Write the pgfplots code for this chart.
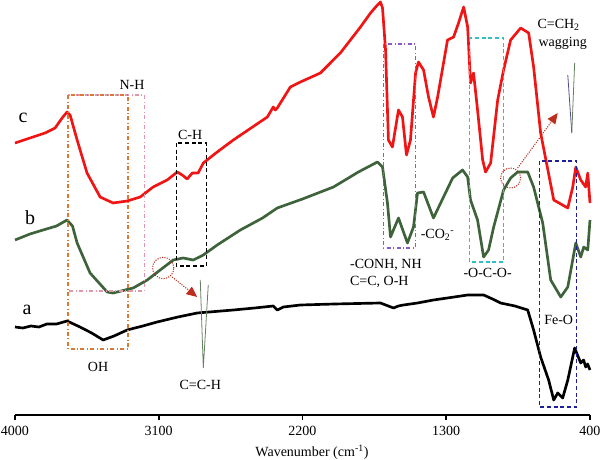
\documentclass[border=0pt]{standalone}
\usepackage{fontspec}
\setmainfont{Liberation Serif}
\usepackage{pgfplots}
\pgfplotsset{compat=1.18}
\usetikzlibrary{arrows.meta}
\definecolor{cred}{RGB}{240,20,20}
\definecolor{cgreen}{RGB}{62,98,58}
\definecolor{corange}{RGB}{220,120,50}
\definecolor{cpink}{RGB}{225,150,170}
\definecolor{cpurple}{RGB}{140,90,200}
\definecolor{ccyan}{RGB}{50,190,200}
\definecolor{cblue}{RGB}{30,30,160}
\definecolor{carrow}{RGB}{190,45,30}
\begin{document}
\begin{tikzpicture}
\begin{axis}[
  scale only axis, width=431.25pt, height=311.25pt,
  x dir=reverse, xmin=400, xmax=4000, ymin=45, ymax=460,
  axis x line*=bottom, axis y line=none,
  xtick={400,1300,2200,3100,4000},
  minor xtick={},
  tick align=outside, major tick length=3.5pt,
  every tick/.style={black, line width=1.2pt},
  axis line style={line width=1.3pt},
  /pgf/number format/assume math mode=true,
  /pgf/number format/set thousands separator={},
  ticklabel style={font=\fontsize{10.5}{12}\selectfont, yshift=-1pt},
  xlabel={Wavenumber (cm\textsuperscript{-1})},
  xlabel style={font=\fontsize{10.5}{12}\selectfont, at={(rel axis cs:0.5165,-0.089)}, anchor=center},
  clip=false,
  every axis plot/.style={line width=2pt, line join=round},
]
% curve a (black)
\addplot[black] coordinates {
(4000,133) (3950,132) (3900,134) (3850,133) (3800,136) (3740,136) (3674,139) (3593,133) (3520,127) (3448,120) (3380,124) (3298,130) (3200,134) (3110,138) (2980,143) (2859,147) (2633,150) (2500,152) (2383,154) (2358,150) (2320,153) (2213,155) (2000,156) (1712,157) (1630,152) (1600,154) (1568,155) (1480,157) (1380,160) (1250,163) (1166,165) (1066,165) (1010,161) (960,157) (870,154) (790,150) (753,130) (709,103) (659,80) (627,60) (602,67) (571,62) (539,80) (496,112) (458,97) (440,100) (427,93) (415,96) (400,90)};
% curve b (green)
\addplot[cgreen] coordinates {
(4000,220) (3906,226) (3824,230) (3740,234) (3674,240) (3640,234) (3611,217) (3530,187) (3423,168) (3386,167) (3260,172) (3172,180) (3091,190) (3009,200) (2947,202) (2884,200) (2821,205) (2734,215) (2589,230) (2450,242) (2358,252) (2200,261) (2006,273) (1850,288) (1731,298) (1699,293) (1668,257) (1649,223) (1599,242) (1543,217) (1505,233) (1480,267) (1442,268) (1411,255) (1380,242) (1317,263) (1260,282) (1198,290) (1166,283) (1148,260) (1104,240) (1066,203) (1035,210) (1003,233) (941,270) (897,282) (853,288) (790,288) (753,273) (696,237) (646,180) (583,163) (539,173) (489,217) (458,203) (439,213) (414,210) (400,240)};
% curve c (red)
\addplot[cred] coordinates {
(4000,317) (3906,322) (3812,327) (3749,332) (3705,342) (3674,348) (3655,345) (3611,320) (3549,287) (3467,263) (3386,257) (3298,259) (3216,263) (3135,273) (3047,280) (2984,288) (2953,285) (2922,281) (2890,287) (2853,287) (2821,297) (2734,308) (2633,320) (2420,343) (2383,353) (2370,350) (2358,352) (2276,373) (2213,378) (2088,387) (1963,407) (1837,433) (1774,447) (1731,455) (1712,458) (1699,452) (1680,410) (1662,320) (1637,313) (1599,350) (1574,343) (1549,305) (1524,320) (1492,387) (1474,398) (1442,390) (1411,363) (1380,343) (1354,363) (1292,420) (1254,423) (1223,437) (1191,453) (1166,433) (1148,377) (1129,387) (1104,350) (1072,300) (1054,288) (1022,297) (978,360) (941,390) (897,420) (834,432) (784,427) (753,393) (709,327) (627,260) (539,252) (508,273) (489,293) (458,280) (427,273) (414,287) (400,257)};
% boxes
\draw[cpink, dash dot, line width=0.8pt] (axis cs:3668,365) rectangle (axis cs:3191,169);
\draw[corange, dash dot, line width=1pt] (axis cs:3668,365) rectangle (axis cs:3292,111);
\draw[black, densely dashed, line width=0.9pt] (axis cs:2991,317) rectangle (axis cs:2803,194);
\draw[cpurple, dash dot, line width=1pt] (axis cs:1693,416) rectangle (axis cs:1492,212);
\draw[ccyan, densely dashed, line width=1pt] (axis cs:1154,422) rectangle (axis cs:941,198);
\draw[cblue, densely dashed, line width=1pt] (axis cs:715,299) rectangle (axis cs:483,53);
% circles and arrows
\draw[carrow, densely dotted, line width=0.8pt] (axis cs:3072,192) circle[radius=8pt];
\draw[carrow, densely dotted, line width=0.8pt, -{Triangle[length=8pt,width=7pt]}] (axis cs:3016,183) -- (axis cs:2859,163);
\draw[carrow, densely dotted, line width=0.8pt] (axis cs:897,282) circle[radius=7.5pt];
\draw[carrow, densely dotted, line width=0.8pt, -{Triangle[length=8pt,width=7pt]}] (axis cs:853,292) -- (axis cs:602,347);
% inset V shapes
\draw[cgreen!80, line width=0.6pt] (axis cs:2840,180) -- (axis cs:2821,92) -- (axis cs:2790,175);
\draw[cblue!50!gray, line width=0.6pt] (axis cs:539,385) -- (axis cs:514,327);
\draw[cgreen!80, line width=0.6pt] (axis cs:514,327) -- (axis cs:496,397);
% labels
\begin{scope}[every node/.style={font=\fontsize{10.5}{12.5}\selectfont, inner sep=1pt}]
\node at (axis cs:3267,375) {N-H};
\node at (axis cs:2903,325) {C-H};
\node at (axis cs:3480,93) {OH};
\node at (axis cs:2840,75) {C=C-H};
\node[anchor=west, align=left] at (axis cs:1912,186.5) {-CONH, NH\\C=C, O-H};
\node at (axis cs:1354,225) {-CO\textsubscript{2}\textsuperscript{-}};
\node at (axis cs:1041,187) {-O-C-O-};
\node at (axis cs:596,140) {Fe-O};
\node at (axis cs:596,435) {C=CH\textsubscript{2}};
\node at (axis cs:571,417) {wagging};
\end{scope}
\begin{scope}[every node/.style={font=\fontsize{15}{18}\selectfont}]
\node at (axis cs:3950,342) {c};
\node at (axis cs:3906,242) {b};
\node at (axis cs:3925,150) {a};
\end{scope}
\coordinate (bbsw) at (rel axis cs:-0.02609,-0.10843);
\coordinate (bbne) at (rel axis cs:1.01739,1);
\end{axis}
\pgfresetboundingbox
\path[use as bounding box] (bbsw) rectangle (bbne);
\end{tikzpicture}
\end{document}
